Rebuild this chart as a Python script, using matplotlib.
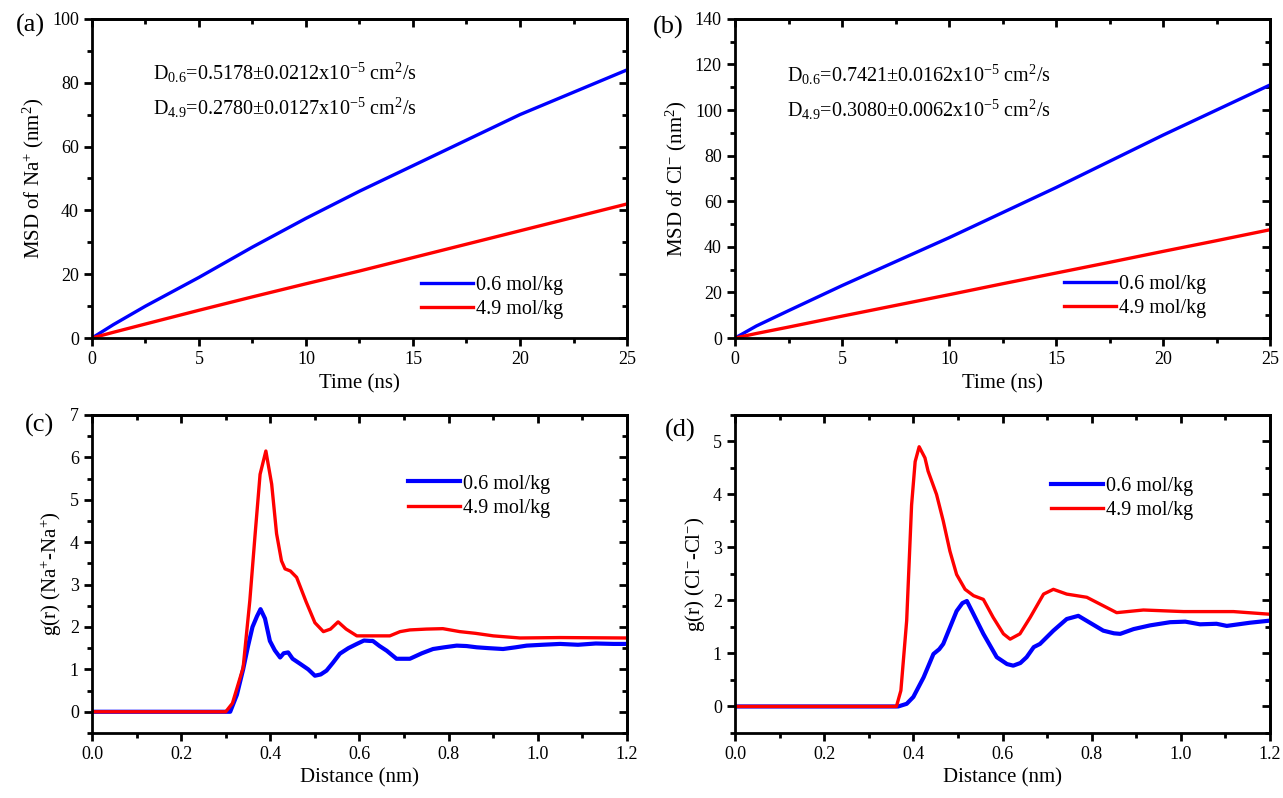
import numpy as np
import matplotlib
matplotlib.use('Agg')
import matplotlib.pyplot as plt
from matplotlib.ticker import MultipleLocator

plt.rcParams['font.family'] = ['Liberation Serif', 'DejaVu Serif']
plt.rcParams['mathtext.fontset'] = 'custom'
plt.rcParams['mathtext.rm'] = 'Liberation Serif'
plt.rcParams['mathtext.it'] = 'Liberation Serif:italic'

# ---- MSD data ----
t_ns = [0, 1, 2.5, 5, 7.5, 10, 12.5, 15, 17.5, 20, 22.5, 25]
msd_na_06 = [0, 4.2, 10, 19, 28.5, 37.5, 46, 54, 62, 70, 77, 84]
msd_na_49 = [0, 1.8, 4.4, 8.7, 12.9, 17, 21, 25.2, 29.4, 33.6, 37.8, 42]
msd_cl_06 = [0, 5.3, 12, 23, 33.5, 44, 55, 66, 77.5, 89, 100, 111]
msd_cl_49 = [0, 2.0, 4.8, 9.6, 14.3, 19, 23.8, 28.5, 33.2, 38, 42.7, 47.5]

# ---- g(r) Na-Na ----
r_na_49 = [0, 0.30, 0.315, 0.339, 0.354, 0.366, 0.377, 0.39, 0.403, 0.414, 0.425,
           0.433, 0.445, 0.459, 0.48, 0.50, 0.519, 0.535, 0.552, 0.57, 0.594, 0.63,
           0.668, 0.691, 0.713, 0.75, 0.787, 0.825, 0.86, 0.9, 0.96, 1.05, 1.2]
g_na_49 = [0, 0, 0.2, 1.04, 2.62, 4.2, 5.6, 6.15, 5.37, 4.2, 3.56,
           3.37, 3.32, 3.17, 2.6, 2.1, 1.89, 1.95, 2.12, 1.95, 1.79, 1.79,
           1.79, 1.89, 1.93, 1.95, 1.96, 1.89, 1.85, 1.79, 1.74, 1.75, 1.74]
r_na_06 = [0, 0.31, 0.325, 0.339, 0.35, 0.36, 0.37, 0.378, 0.388, 0.399, 0.41, 0.422,
           0.43, 0.44, 0.45, 0.467, 0.485, 0.5, 0.513, 0.526, 0.54, 0.556, 0.575,
           0.594, 0.61, 0.624, 0.63, 0.645, 0.661, 0.683, 0.713, 0.74, 0.765, 0.79,
           0.818, 0.84, 0.863, 0.89, 0.922, 0.95, 0.975, 1.01, 1.05, 1.09, 1.13,
           1.17, 1.2]
g_na_06 = [0, 0, 0.4, 1.0, 1.55, 2.0, 2.25, 2.42, 2.2, 1.67, 1.45, 1.28,
           1.38, 1.4, 1.25, 1.13, 1.0, 0.85, 0.88, 0.97, 1.15, 1.37, 1.5,
           1.6, 1.68, 1.67, 1.67, 1.55, 1.44, 1.25, 1.25, 1.38, 1.48, 1.52,
           1.56, 1.55, 1.52, 1.5, 1.48, 1.52, 1.56, 1.58, 1.6, 1.58, 1.61,
           1.6, 1.6]

# ---- g(r) Cl-Cl ----
r_cl_49 = [0, 0.362, 0.372, 0.385, 0.396, 0.404, 0.413, 0.426, 0.433, 0.452, 0.467,
           0.482, 0.497, 0.516, 0.535, 0.557, 0.579, 0.602, 0.617, 0.639, 0.662,
           0.692, 0.714, 0.744, 0.789, 0.819, 0.856, 0.916, 1.006, 1.118, 1.2]
g_cl_49 = [0, 0, 0.3, 1.62, 3.8, 4.62, 4.9, 4.69, 4.44, 4.0, 3.5,
           2.93, 2.49, 2.21, 2.09, 2.02, 1.68, 1.37, 1.27, 1.37, 1.68,
           2.12, 2.21, 2.12, 2.06, 1.93, 1.77, 1.82, 1.79, 1.79, 1.74]
r_cl_06 = [0, 0.366, 0.385, 0.4, 0.423, 0.445, 0.458, 0.467, 0.482, 0.497, 0.51,
           0.52, 0.535, 0.557, 0.587, 0.61, 0.624, 0.64, 0.654, 0.67, 0.684,
           0.714, 0.744, 0.77, 0.796, 0.826, 0.85, 0.864, 0.894, 0.931, 0.976,
           1.01, 1.043, 1.08, 1.103, 1.155, 1.2]
g_cl_06 = [0, 0, 0.05, 0.18, 0.55, 0.99, 1.08, 1.18, 1.49, 1.8, 1.95,
           1.99, 1.74, 1.37, 0.93, 0.8, 0.77, 0.82, 0.93, 1.12, 1.18,
           1.43, 1.65, 1.71, 1.58, 1.43, 1.38, 1.37, 1.46, 1.53, 1.59,
           1.6, 1.55, 1.56, 1.52, 1.58, 1.62]

labels = ['0.6 mol/kg', '4.9 mol/kg']
blue, red = '#0000ff', '#ff0000'

fig = plt.figure(figsize=(12.83, 7.98), dpi=100)
W = 0.417
H = 0.4
ax_a = fig.add_axes([0.0717, 0.5764, W, H])
ax_b = fig.add_axes([0.5729, 0.5764, W, H])
ax_c = fig.add_axes([0.0717, 0.0815, W, 0.3985])
ax_d = fig.add_axes([0.5729, 0.0815, W, 0.3985])


def style(ax, xmaj, xmin, ymaj, ymin):
    for s in ax.spines.values():
        s.set_linewidth(2.0)
    ax.xaxis.set_major_locator(MultipleLocator(xmaj))
    ax.xaxis.set_minor_locator(MultipleLocator(xmin))
    ax.yaxis.set_major_locator(MultipleLocator(ymaj))
    ax.yaxis.set_minor_locator(MultipleLocator(ymin))
    ax.tick_params(which='both', direction='out', width=2.0, labelsize=13,
                   top=False, right=False)
    ax.tick_params(which='major', length=6)
    ax.tick_params(which='minor', length=3.5)
    # top / right ticks point inwards, as in Origin
    sx = ax.secondary_xaxis('top')
    sx.xaxis.set_major_locator(MultipleLocator(xmaj))
    sx.xaxis.set_minor_locator(MultipleLocator(xmin))
    sx.tick_params(which='both', direction='in', width=2.0, labeltop=False)
    sx.tick_params(which='major', length=6)
    sx.tick_params(which='minor', length=3.5)
    sx.spines['top'].set_linewidth(2.0)
    sy = ax.secondary_yaxis('right')
    sy.yaxis.set_major_locator(MultipleLocator(ymaj))
    sy.yaxis.set_minor_locator(MultipleLocator(ymin))
    sy.tick_params(which='both', direction='in', width=2.0, labelright=False)
    sy.tick_params(which='major', length=6)
    sy.tick_params(which='minor', length=3.5)
    sy.spines['right'].set_linewidth(2.0)


def legend(ax, x, y):
    ax.legend(frameon=False, fontsize=14.5, loc='upper left',
              bbox_to_anchor=(x, y), borderpad=0, borderaxespad=0,
              handlelength=2.6, handletextpad=0.15, labelspacing=0.25)


# (a)
ax_a.plot(t_ns, msd_na_06, color=blue, lw=2.4, label=labels[0])
ax_a.plot(t_ns, msd_na_49, color=red, lw=2.4, label=labels[1])
ax_a.set_xlim(0, 25)
ax_a.set_ylim(0, 100)
style(ax_a, 5, 2.5, 20, 10)
ax_a.set_xlabel('Time (ns)', fontsize=15)
ax_a.set_ylabel('MSD of Na$^{+}$ (nm$^{2}$)', fontsize=15)
legend(ax_a, 0.615, 0.196)
ax_a.text(0.114, 0.809, r'D$_{0.6}$=0.5178±0.0212x10$^{-5}$ cm$^{2}$/s',
          transform=ax_a.transAxes, fontsize=14.5, va='baseline')
ax_a.text(0.114, 0.699, r'D$_{4.9}$=0.2780±0.0127x10$^{-5}$ cm$^{2}$/s',
          transform=ax_a.transAxes, fontsize=14.5, va='baseline')

# (b)
ax_b.plot(t_ns, msd_cl_06, color=blue, lw=2.4, label=labels[0])
ax_b.plot(t_ns, msd_cl_49, color=red, lw=2.4, label=labels[1])
ax_b.set_xlim(0, 25)
ax_b.set_ylim(0, 140)
style(ax_b, 5, 2.5, 20, 10)
ax_b.set_xlabel('Time (ns)', fontsize=15)
ax_b.set_ylabel('MSD of Cl$^{-}$ (nm$^{2}$)', fontsize=15)
legend(ax_b, 0.615, 0.197)
ax_b.text(0.097, 0.803, r'D$_{0.6}$=0.7421±0.0162x10$^{-5}$ cm$^{2}$/s',
          transform=ax_b.transAxes, fontsize=14.5, va='baseline')
ax_b.text(0.097, 0.693, r'D$_{4.9}$=0.3080±0.0062x10$^{-5}$ cm$^{2}$/s',
          transform=ax_b.transAxes, fontsize=14.5, va='baseline')

# (c)
ax_c.plot(r_na_06, g_na_06, color=blue, lw=3.0, label=labels[0])
ax_c.plot(r_na_49, g_na_49, color=red, lw=2.4, label=labels[1])
ax_c.set_xlim(0, 1.2)
ax_c.set_ylim(-0.5, 7)
style(ax_c, 0.2, 0.1, 1, 0.5)
ax_c.xaxis.set_major_formatter(plt.FormatStrFormatter('%.1f'))
ax_c.set_xlabel('Distance (nm)', fontsize=15)
ax_c.set_ylabel('g(r) (Na$^{+}$-Na$^{+}$)', fontsize=15)
legend(ax_c, 0.59, 0.813)

# (d)
ax_d.plot(r_cl_06, g_cl_06, color=blue, lw=3.0, label=labels[0])
ax_d.plot(r_cl_49, g_cl_49, color=red, lw=2.4, label=labels[1])
ax_d.set_xlim(0, 1.2)
ax_d.set_ylim(-0.5, 5.5)
style(ax_d, 0.2, 0.1, 1, 0.5)
ax_d.xaxis.set_major_formatter(plt.FormatStrFormatter('%.1f'))
ax_d.set_xlabel('Distance (nm)', fontsize=15)
ax_d.set_ylabel('g(r) (Cl$^{-}$-Cl$^{-}$)', fontsize=15)
legend(ax_d, 0.59, 0.805)

# panel letters
fig.text(0.012, 0.968, '(a)', fontsize=19, va='center')
fig.text(0.509, 0.965, '(b)', fontsize=19, va='center')
fig.text(0.019, 0.467, '(c)', fontsize=19, va='center')
fig.text(0.518, 0.461, '(d)', fontsize=19, va='center')

fig.savefig('out.png', dpi=100)
